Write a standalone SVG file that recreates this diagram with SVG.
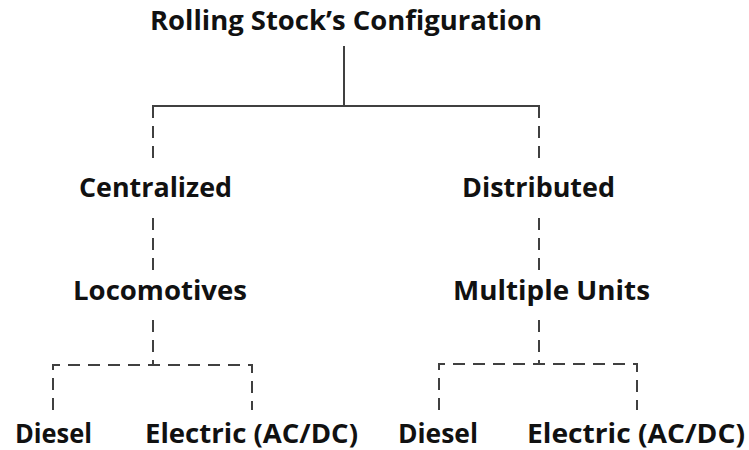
<svg xmlns="http://www.w3.org/2000/svg" width="749" height="450" viewBox="0 0 749 450">
<style>
.bg{fill:#ffffff}
.t{font-family:"Open Sans","Liberation Sans",sans-serif;font-weight:700;font-size:26px;fill:#111111}
.s{stroke:#404040;stroke-width:2;fill:none}
.d{stroke:#404040;stroke-width:2;fill:none;stroke-dasharray:12 8}
</style>
<rect class="bg" x="0" y="0" width="749" height="450"/>
<g id="connectors">
<line class="s" x1="344" y1="46" x2="344" y2="106"/>
<line class="s" x1="152" y1="106" x2="540" y2="106"/>
<line class="d" x1="153" y1="106" x2="153" y2="162"/>
<line class="d" x1="153" y1="218" x2="153" y2="272"/>
<line class="d" x1="153" y1="320" x2="153" y2="365"/>
<path class="d" d="M53,410 V365 H252 V410"/>
<line class="d" x1="539" y1="106" x2="539" y2="162"/>
<line class="d" x1="539" y1="218" x2="539" y2="272"/>
<line class="d" x1="539" y1="320" x2="539" y2="364"/>
<path class="d" d="M439,410 V364 H637 V410"/>
</g>
<g id="root"><text class="t" x="150" y="30" textLength="392" lengthAdjust="spacingAndGlyphs">Rolling Stock’s Configuration</text></g>
<g id="centralized"><text class="t" x="79" y="197" textLength="153" lengthAdjust="spacingAndGlyphs">Centralized</text></g>
<g id="locomotives"><text class="t" x="73" y="300" textLength="174" lengthAdjust="spacingAndGlyphs">Locomotives</text></g>
<g id="distributed"><text class="t" x="462" y="197" textLength="153" lengthAdjust="spacingAndGlyphs">Distributed</text></g>
<g id="multiple-units"><text class="t" x="453" y="300" textLength="197" lengthAdjust="spacingAndGlyphs">Multiple Units</text></g>
<g id="diesel-left"><text class="t" x="15" y="443" textLength="77" lengthAdjust="spacingAndGlyphs">Diesel</text></g>
<g id="electric-left"><text class="t" x="145" y="443" textLength="213" lengthAdjust="spacingAndGlyphs">Electric (AC/DC)</text></g>
<g id="diesel-right"><text class="t" x="398" y="443" textLength="80" lengthAdjust="spacingAndGlyphs">Diesel</text></g>
<g id="electric-right"><text class="t" x="527" y="443" textLength="218" lengthAdjust="spacingAndGlyphs">Electric (AC/DC)</text></g>
</svg>
